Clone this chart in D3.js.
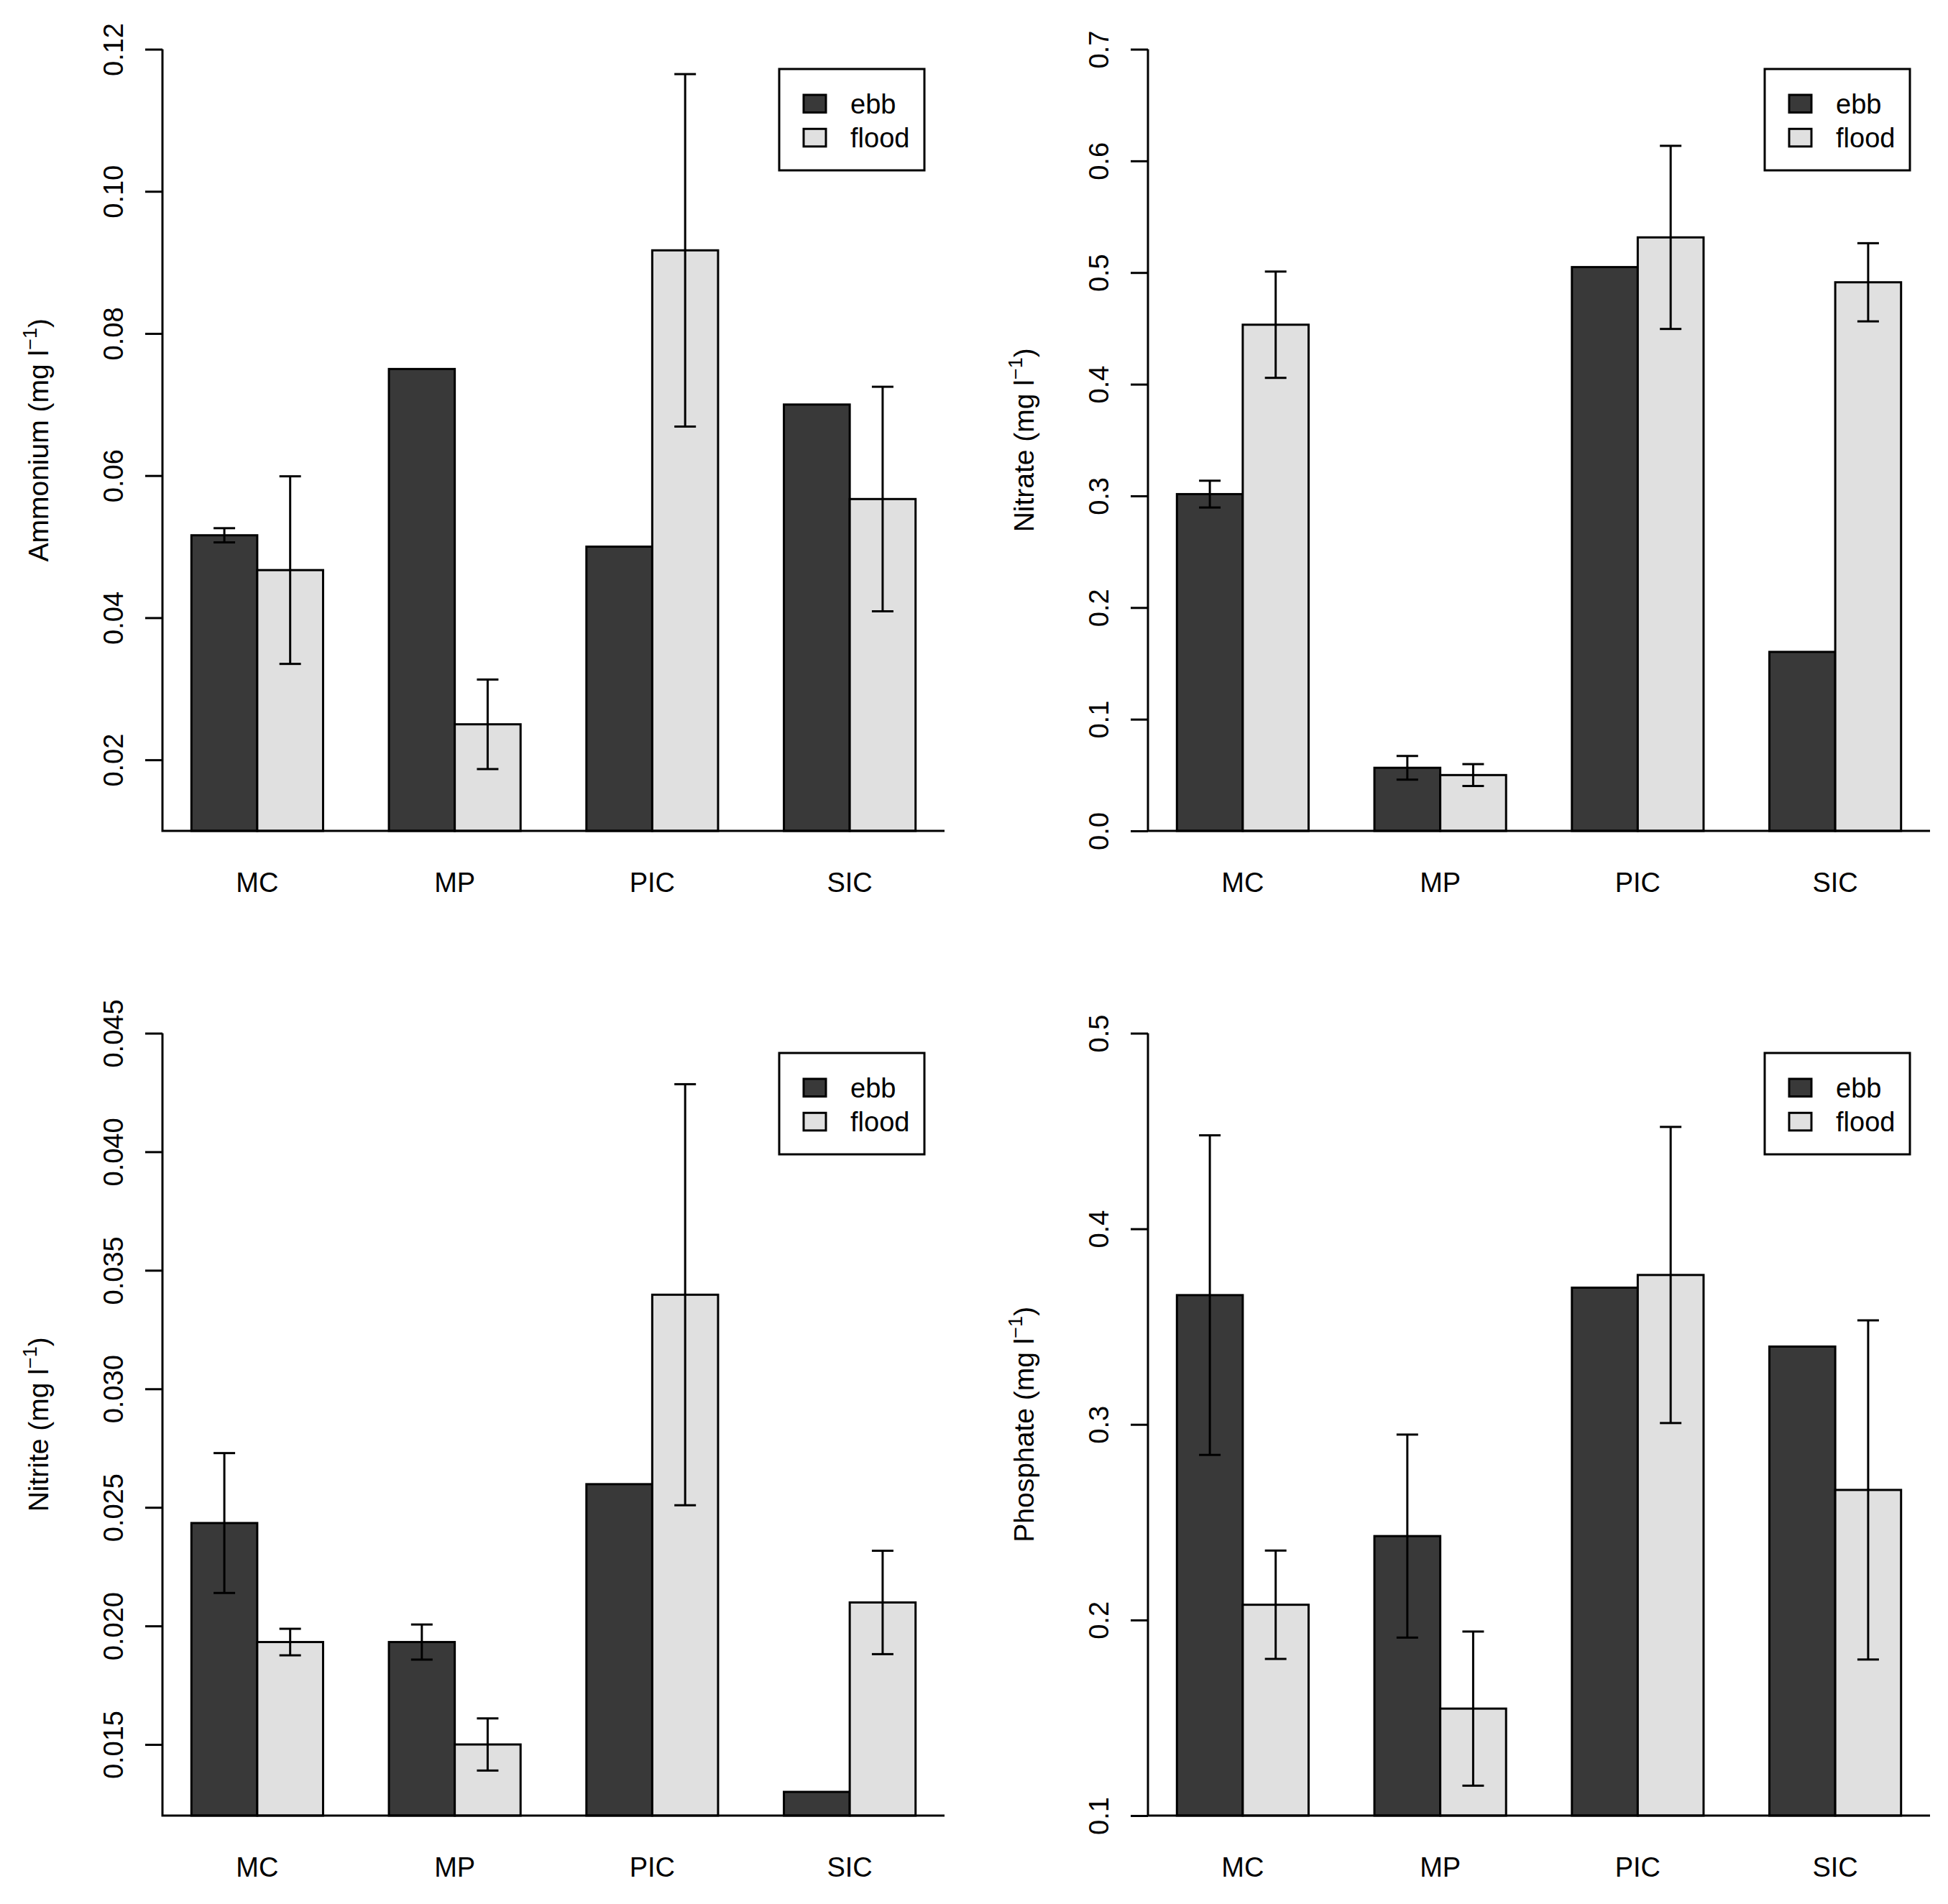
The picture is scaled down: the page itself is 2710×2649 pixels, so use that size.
<!DOCTYPE html>
<html>
<head>
<meta charset="utf-8">
<script src="https://cdn.jsdelivr.net/npm/d3@7"></script>
<style>
  body { margin: 0; background: #fff; }
</style>
</head>
<body>
<div id="chart"></div>
<script>
// categories and series
const sites = ["MC", "MP", "PIC", "SIC"];
const tides = ["ebb", "flood"];

// Ammonium (mg l-1)
const ammoniumEbb = [0.0516, 0.0750, 0.0500, 0.0700];
const ammoniumEbbErr = [0.0010, null, null, null];
const ammoniumFlood = [0.0467, 0.0250, 0.0917, 0.0567];
const ammoniumFloodErr = [0.0132, 0.0063, 0.0248, 0.0158];
const ammoniumTicks = [0.02, 0.04, 0.06, 0.08, 0.10, 0.12];

// Nitrate (mg l-1)
const nitrateEbb = [0.3016, 0.0565, 0.5049, 0.1603];
const nitrateEbbErr = [0.0120, 0.0106, null, null];
const nitrateFlood = [0.4533, 0.0500, 0.5315, 0.4913];
const nitrateFloodErr = [0.0476, 0.0098, 0.0820, 0.0350];
const nitrateTicks = [0.0, 0.1, 0.2, 0.3, 0.4, 0.5, 0.6, 0.7];

// Nitrite (mg l-1)
const nitriteEbb = [0.02434, 0.01932, 0.02598, 0.0130];
const nitriteEbbErr = [0.00295, 0.00074, null, null];
const nitriteFlood = [0.01932, 0.0150, 0.03397, 0.02099];
const nitriteFloodErr = [0.00056, 0.0011, 0.00888, 0.00218];
const nitriteTicks = [0.015, 0.020, 0.025, 0.030, 0.035, 0.040, 0.045];

// Phosphate (mg l-1)
const phosphateEbb = [0.3661, 0.2429, 0.3699, 0.3398];
const phosphateEbbErr = [0.0817, 0.0519, null, null];
const phosphateFlood = [0.2078, 0.1547, 0.3764, 0.2665];
const phosphateFloodErr = [0.0277, 0.0394, 0.0757, 0.0867];
const phosphateTicks = [0.1, 0.2, 0.3, 0.4, 0.5];

const width = 2710;
const height = 2649;
const fillColors = ["#393939", "#e0e0e0"];
const font = "'Liberation Sans', Arial, Helvetica, sans-serif";
const fontSize = 38;

const svg = d3.select("#chart")
    .append("svg")
    .attr("width", width)
    .attr("height", height)
    .style("background", "#fff");

function drawPanel(p) {
    const g = svg.append("g");

    // R barplot unit coordinates: bars at 1..12, 4% padding each side
    const x = d3.scaleLinear().domain([0.56, 12.44]).range([p.x0, p.x1]);
    const y = d3.scaleLinear().domain(p.domain).range([p.y1, p.y0]);
    const bw = x(2) - x(1);

    // bars
    tides.forEach((t, k) => {
        g.selectAll(".bar-" + t)
            .data(p.values[k])
            .enter()
            .append("rect")
            .attr("class", "bar-" + t)
            .attr("x", (d, i) => x(1 + 3 * i + k))
            .attr("width", bw)
            .attr("y", d => y(d))
            .attr("height", d => y(p.domain[0]) - y(d))
            .attr("fill", fillColors[k])
            .attr("stroke", "#000")
            .attr("stroke-width", 3);
    });

    // error bars
    tides.forEach((t, k) => {
        const errs = p.values[k]
            .map((v, i) => ({ v: v, e: p.errors[k][i], cx: x(1.5 + 3 * i + k) }))
            .filter(d => d.e != null);
        const eb = g.selectAll(".err-" + t)
            .data(errs)
            .enter()
            .append("g")
            .attr("class", "err-" + t)
            .attr("stroke", "#000")
            .attr("stroke-width", 3);
        eb.append("line")
            .attr("x1", d => d.cx).attr("x2", d => d.cx)
            .attr("y1", d => y(d.v + d.e)).attr("y2", d => y(d.v - d.e));
        eb.append("line")
            .attr("x1", d => d.cx - 15).attr("x2", d => d.cx + 15)
            .attr("y1", d => y(d.v + d.e)).attr("y2", d => y(d.v + d.e));
        eb.append("line")
            .attr("x1", d => d.cx - 15).attr("x2", d => d.cx + 15)
            .attr("y1", d => y(d.v - d.e)).attr("y2", d => y(d.v - d.e));
    });

    // L-shaped box
    g.append("path")
        .attr("d", `M${p.x0},${p.y0}V${p.y1}H${p.x1}`)
        .attr("fill", "none")
        .attr("stroke", "#000")
        .attr("stroke-width", 3);

    // y axis
    const yAxis = g.append("g")
        .attr("transform", `translate(${p.x0},0)`)
        .call(d3.axisLeft(y)
            .tickValues(p.ticks)
            .tickSize(24)
            .tickFormat(d3.format(p.fmt)));
    yAxis.select(".domain").remove();
    yAxis.selectAll(".tick line").attr("stroke-width", 3);
    yAxis.selectAll(".tick text")
        .attr("x", null)
        .attr("dy", null)
        .attr("transform", "translate(-55,0) rotate(-90)")
        .attr("text-anchor", "middle")
        .style("font-family", font)
        .style("font-size", fontSize + "px")
        .attr("fill", "#000");

    // category labels
    g.selectAll(".site-label")
        .data(sites)
        .enter()
        .append("text")
        .attr("class", "site-label")
        .attr("x", (d, i) => x(2 + 3 * i))
        .attr("y", p.y1 + 85)
        .attr("text-anchor", "middle")
        .style("font-family", font)
        .style("font-size", fontSize + "px")
        .text(d => d);

    // y axis title with superscript
    const title = g.append("text")
        .attr("transform", `translate(${p.x0 - 159},${(p.y0 + p.y1) / 2}) rotate(-90)`)
        .attr("text-anchor", "middle")
        .style("font-family", font)
        .style("font-size", "39px");
    title.append("tspan").text(p.label + " (mg l");
    title.append("tspan").attr("dy", -16).style("font-size", "27px").text("\u22121");
    title.append("tspan").attr("dy", 16).text(")");

    // legend
    const lx = p.x1 - 230, ly = p.y0 + 27.5;
    const lg = g.append("g").attr("transform", `translate(${lx},${ly})`);
    lg.append("rect")
        .attr("width", 202).attr("height", 141)
        .attr("fill", "#fff").attr("stroke", "#000").attr("stroke-width", 3);
    const items = lg.selectAll(".leg")
        .data(tides)
        .enter()
        .append("g")
        .attr("class", "leg")
        .attr("transform", (d, k) => `translate(0,${k * 47.3})`);
    items.append("rect")
        .attr("x", 34).attr("y", 36)
        .attr("width", 31).attr("height", 24.5)
        .attr("fill", (d, k) => fillColors[k])
        .attr("stroke", "#000").attr("stroke-width", 3);
    items.append("text")
        .attr("x", 99).attr("y", 61.7)
        .style("font-family", font)
        .style("font-size", fontSize + "px")
        .text(d => d);
}

drawPanel({ x0: 226, x1: 1314, y0: 68.5, y1: 1156, domain: [0.01, 0.12],
    values: [ammoniumEbb, ammoniumFlood], errors: [ammoniumEbbErr, ammoniumFloodErr],
    ticks: ammoniumTicks, fmt: ".2f", label: "Ammonium" });
drawPanel({ x0: 1597, x1: 2685, y0: 68.5, y1: 1156, domain: [0, 0.7],
    values: [nitrateEbb, nitrateFlood], errors: [nitrateEbbErr, nitrateFloodErr],
    ticks: nitrateTicks, fmt: ".1f", label: "Nitrate" });
drawPanel({ x0: 226, x1: 1314, y0: 1437.5, y1: 2526, domain: [0.012, 0.045],
    values: [nitriteEbb, nitriteFlood], errors: [nitriteEbbErr, nitriteFloodErr],
    ticks: nitriteTicks, fmt: ".3f", label: "Nitrite" });
drawPanel({ x0: 1597, x1: 2685, y0: 1437.5, y1: 2526, domain: [0.1, 0.5],
    values: [phosphateEbb, phosphateFlood], errors: [phosphateEbbErr, phosphateFloodErr],
    ticks: phosphateTicks, fmt: ".1f", label: "Phosphate" });
</script>
</body>
</html>
